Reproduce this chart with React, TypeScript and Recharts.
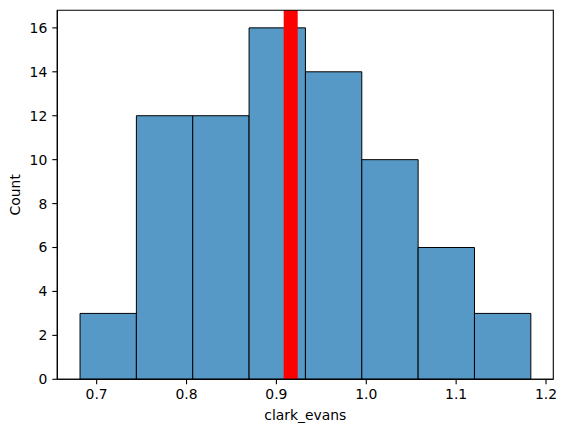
import React from 'react';
import {
  ComposedChart,
  XAxis,
  YAxis,
  ReferenceArea,
  ReferenceLine,
} from 'recharts';

// Histogram of clark_evans values: bin edges and counts per bin
const binEdges = [0.6815, 0.7442, 0.8069, 0.8696, 0.9323, 0.995, 1.0577, 1.1204, 1.1831];
const binCounts = [3, 12, 12, 16, 14, 10, 6, 3];

// Marker value drawn as a thick red vertical line
const markerValue = 0.9159;

const xTicks = [0.7, 0.8, 0.9, 1.0, 1.1, 1.2];
const yTicks = [0, 2, 4, 6, 8, 10, 12, 14, 16];

const xDomain: [number, number] = [0.6562, 1.2081];
const yDomain: [number, number] = [0, 16.8];

const FONT = 'DejaVu Sans, sans-serif';
const FONT_SIZE = 13.9;

const bins = binCounts.map((count, i) => ({
  x0: binEdges[i],
  x1: binEdges[i + 1],
  count,
}));

const YLabel = (props: any) => {
  const vb = props.viewBox || {};
  const cx = 15;
  const cy = vb.y + vb.height / 2;
  return (
    <text
      x={cx}
      y={cy}
      textAnchor="middle"
      dominantBaseline="central"
      transform={`rotate(-90, ${cx}, ${cy})`}
      fontFamily={FONT}
      fontSize={FONT_SIZE}
      fill="#000"
    >
      Count
    </text>
  );
};

const XLabel = (props: any) => {
  const vb = props.viewBox || {};
  return (
    <text
      x={vb.x + vb.width / 2}
      y={419.5}
      textAnchor="middle"
      fontFamily={FONT}
      fontSize={FONT_SIZE}
      fill="#000"
    >
      clark_evans
    </text>
  );
};

export default function App() {
  return (
    <div style={{ position: 'absolute', left: 0, top: 0, background: '#fff' }}>
      <ComposedChart
        width={566}
        height={433}
        data={[]}
        margin={{ top: 10.3, right: 12.7, left: 0, bottom: 0 }}
      >
        <XAxis
          xAxisId="main"
          type="number"
          dataKey="x"
          domain={xDomain}
          ticks={xTicks}
          allowDataOverflow
          tickFormatter={(v: number) => v.toFixed(1)}
          height={53.7}
          tickSize={5}
          tickMargin={5.3}
          stroke="#000"
          axisLine={{ stroke: '#000', strokeWidth: 1.1 }}
          tickLine={{ stroke: '#000', strokeWidth: 1.1 }}
          tick={{ fill: '#000', fontFamily: FONT, fontSize: FONT_SIZE }}
          label={<XLabel />}
        />
        <YAxis
          yAxisId="main"
          type="number"
          domain={yDomain}
          ticks={yTicks}
          allowDataOverflow
          width={57.3}
          tickSize={5}
          tickMargin={5}
          axisLine={{ stroke: '#000', strokeWidth: 1.1 }}
          tickLine={{ stroke: '#000', strokeWidth: 1.1 }}
          tick={{ fill: '#000', fontFamily: FONT, fontSize: FONT_SIZE }}
          label={<YLabel />}
        />
        {bins.map((b, i) => (
          <ReferenceArea
            key={i}
            xAxisId="main"
            yAxisId="main"
            x1={b.x0}
            x2={b.x1}
            y1={0}
            y2={b.count}
            fill="#5799c6"
            fillOpacity={1}
            stroke="#000"
            strokeWidth={1}
            ifOverflow="visible"
          />
        ))}
        <ReferenceLine
          xAxisId="main"
          yAxisId="main"
          x={markerValue}
          stroke="#ff0000"
          strokeWidth={14}
          ifOverflow="visible"
        />
        {/* plot frame (all four spines) */}
        <ReferenceArea
          xAxisId="main"
          yAxisId="main"
          x1={xDomain[0]}
          x2={xDomain[1]}
          y1={yDomain[0]}
          y2={yDomain[1]}
          fill="none"
          fillOpacity={0}
          stroke="#000"
          strokeWidth={1.1}
          ifOverflow="visible"
          zIndex={1000}
        />
      </ComposedChart>
    </div>
  );
}
